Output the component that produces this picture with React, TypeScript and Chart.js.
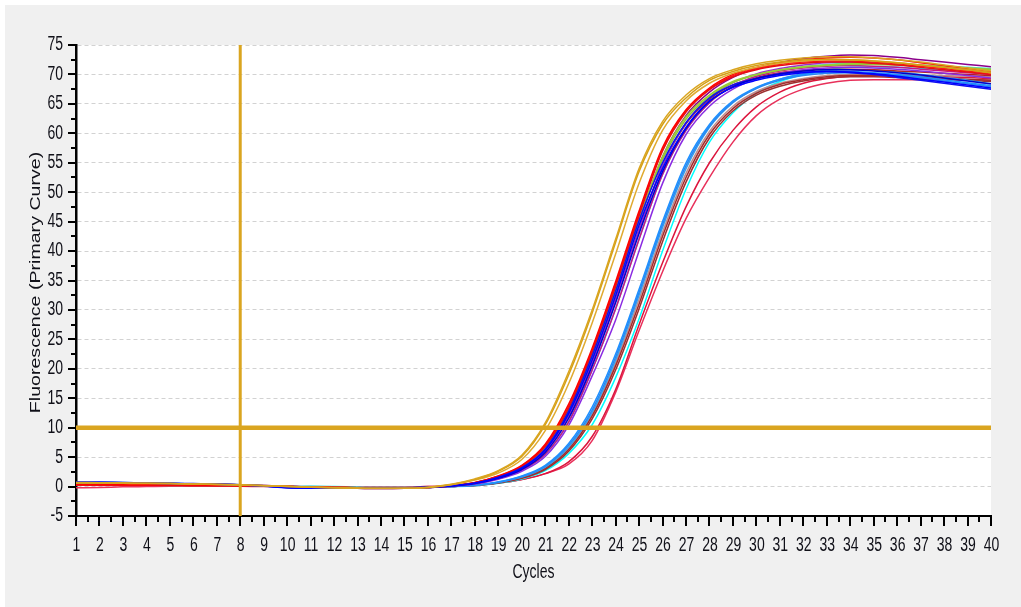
import { useEffect, useRef } from "react";
import { Chart, registerables } from "chart.js";

Chart.register(...registerables);

// ---------- data ----------
const cycles = [1, 2, 3, 4, 5, 6, 7, 8, 9, 10, 11, 12, 13, 14, 15, 16, 17, 18, 19, 20, 21, 22, 23, 24, 25, 26, 27, 28, 29, 30, 31, 32, 33, 34, 35, 36, 37, 38, 39, 40];

const yMin = -5;
const yMax = 75;
const thresholdValue = 10;
const baselineEndCycle = 8;
const xTitle = "Cycles";
const yTitle = "Fluorescence (Primary Curve)";

const goldA = [0.7, 0.65, 0.6, 0.55, 0.5, 0.45, 0.4, 0.3, 0.2, 0.05, -0.1, -0.2, -0.25, -0.3, -0.3, -0.1, 0.4, 1.3, 2.7, 5.3, 10.8, 19.5, 30, 42, 54, 62, 66.5, 69.3, 70.8, 71.8, 72.4, 72.8, 73.0, 73.0, 72.8, 72.5, 72.1, 71.6, 71.1, 70.6];
const goldB = [0.65, 0.6, 0.6, 0.55, 0.5, 0.45, 0.35, 0.25, 0.15, 0, -0.1, -0.2, -0.25, -0.3, -0.3, -0.15, 0.35, 1.2, 2.6, 5.1, 10.5, 19, 29.5, 41.5, 53.5, 61.5, 66, 69, 70.5, 71.5, 72.1, 72.5, 72.6, 72.5, 72.3, 72, 71.6, 71.2, 70.8, 70.3];
const goldC = [0.6, 0.6, 0.55, 0.5, 0.5, 0.4, 0.35, 0.25, 0.15, 0, -0.1, -0.2, -0.3, -0.35, -0.3, -0.15, 0.3, 1.1, 2.3, 4.6, 9.5, 17.5, 27.8, 39.5, 51.5, 60.5, 65.5, 68.5, 70.2, 71.2, 71.9, 72.3, 72.5, 72.5, 72.3, 72, 71.6, 71.2, 70.8, 70.3];
const redA = [0.3, 0.3, 0.3, 0.3, 0.25, 0.25, 0.2, 0.15, 0.1, 0, -0.1, -0.15, -0.2, -0.25, -0.25, -0.15, 0.15, 0.7, 1.8, 3.6, 7.2, 14, 23.5, 34.8, 46.8, 57.6, 64, 67.7, 70, 71.2, 72, 72.5, 72.8, 72.9, 72.8, 72.5, 72, 71.5, 71, 70.4];
const redB = [0.35, 0.3, 0.3, 0.3, 0.3, 0.25, 0.2, 0.15, 0.1, 0, -0.1, -0.15, -0.2, -0.25, -0.2, -0.1, 0.15, 0.65, 1.7, 3.4, 6.8, 13.3, 22.8, 34, 46, 57, 63.6, 67.4, 69.6, 70.8, 71.5, 71.9, 72.1, 72.1, 71.9, 71.6, 71.2, 70.8, 70.4, 70];
const redC = [0.3, 0.3, 0.25, 0.25, 0.25, 0.2, 0.2, 0.15, 0.1, 0, -0.1, -0.15, -0.2, -0.2, -0.2, -0.1, 0.14, 0.66, 1.75, 3.5, 7, 13.6, 23.1, 34.4, 46.4, 57.2, 63.8, 67.5, 69.8, 71, 71.7, 72.1, 72.3, 72.3, 72.1, 71.8, 71.4, 71, 70.6, 70.2];
const yellowGreen = [0.5, 0.5, 0.45, 0.45, 0.4, 0.4, 0.35, 0.25, 0.15, 0, -0.1, -0.15, -0.2, -0.25, -0.25, -0.15, 0.12, 0.6, 1.6, 3.3, 6.6, 13, 22.5, 33.5, 45.5, 56, 62.8, 66.5, 68.8, 70, 70.8, 71.3, 71.6, 71.8, 71.8, 71.7, 71.5, 71.3, 71.1, 70.9];
const yellowGreenB = [0.45, 0.45, 0.45, 0.4, 0.4, 0.35, 0.3, 0.2, 0.1, 0, -0.1, -0.15, -0.2, -0.2, -0.2, -0.1, 0.1, 0.58, 1.55, 3.2, 6.4, 12.6, 22, 33, 45, 55.5, 62.4, 66.2, 68.6, 69.9, 70.7, 71.2, 71.5, 71.7, 71.7, 71.6, 71.4, 71.2, 71, 70.8];
const purple = [0.5, 0.5, 0.5, 0.45, 0.45, 0.4, 0.4, 0.3, 0.2, 0.05, -0.1, -0.2, -0.3, -0.35, -0.3, -0.15, 0.1, 0.55, 1.5, 3.2, 6.4, 12.8, 22, 33, 45, 56, 63, 67, 69.5, 71, 72, 72.7, 73.1, 73.3, 73.2, 72.9, 72.5, 72.1, 71.7, 71.3];
const darkOrchid = [0.45, 0.45, 0.45, 0.4, 0.4, 0.35, 0.35, 0.3, 0.2, 0.05, -0.1, -0.2, -0.3, -0.35, -0.3, -0.15, 0.08, 0.52, 1.45, 3, 6, 12, 21, 31.8, 43.6, 54.5, 61.8, 66, 68.6, 70.1, 71, 71.6, 72, 72.1, 72, 71.8, 71.5, 71.2, 70.8, 70.4];
const blueA = [0.75, 0.75, 0.7, 0.6, 0.55, 0.5, 0.45, 0.3, 0.1, -0.2, -0.3, -0.3, -0.3, -0.25, -0.2, -0.1, 0.1, 0.55, 1.5, 3.1, 6.2, 12.4, 21.5, 32.4, 44.4, 54, 61, 65.5, 67.8, 69, 69.8, 70.3, 70.5, 70.4, 70.1, 69.7, 69.2, 68.7, 68.2, 67.7];
const blueB = [0.7, 0.7, 0.65, 0.6, 0.5, 0.45, 0.4, 0.3, 0.1, -0.15, -0.25, -0.3, -0.3, -0.25, -0.2, -0.1, 0.08, 0.5, 1.4, 2.9, 5.8, 11.6, 20.5, 31.2, 43, 53.5, 60.8, 65.4, 67.9, 69.3, 70.1, 70.6, 70.8, 70.8, 70.6, 70.3, 69.9, 69.4, 68.9, 68.4];
const blueC = [0.7, 0.7, 0.65, 0.55, 0.5, 0.45, 0.4, 0.25, 0.05, -0.2, -0.3, -0.3, -0.25, -0.2, -0.2, -0.1, 0.1, 0.6, 1.6, 3.2, 6.4, 12.8, 22.2, 33.2, 45.2, 55, 61.8, 66, 68.2, 69.3, 70, 70.4, 70.5, 70.3, 70, 69.5, 69, 68.5, 68, 67.5];
const blueViolet = [0.45, 0.45, 0.4, 0.4, 0.4, 0.35, 0.35, 0.25, 0.1, 0, -0.1, -0.2, -0.25, -0.3, -0.25, -0.15, 0.05, 0.45, 1.25, 2.6, 5.1, 10.4, 18.8, 28.3, 40, 51.5, 59.8, 64.6, 67.5, 69.2, 70.2, 70.8, 71.1, 71.2, 71.1, 70.9, 70.6, 70.2, 69.8, 69.4];
const violetRed = [0.4, 0.4, 0.4, 0.35, 0.35, 0.3, 0.3, 0.25, 0.15, 0, -0.1, -0.15, -0.2, -0.25, -0.25, -0.15, 0.07, 0.5, 1.35, 2.8, 5.5, 11, 19.8, 30.2, 42, 53, 60.5, 65.2, 68, 69.7, 70.6, 71.1, 71.4, 71.5, 71.4, 71.2, 70.9, 70.6, 70.3, 70.0];
const turquoise = [0.55, 0.55, 0.5, 0.45, 0.4, 0.35, 0.3, 0.2, 0.1, 0, -0.05, -0.1, -0.2, -0.25, -0.25, -0.15, 0.07, 0.5, 1.35, 2.8, 5.5, 11, 19.8, 30.2, 42, 53, 60.5, 65.2, 68, 69.7, 70.7, 71.3, 71.7, 71.9, 71.9, 71.8, 71.6, 71.4, 71.2, 71.0];
const fireBrick = [0.35, 0.35, 0.3, 0.3, 0.3, 0.25, 0.25, 0.2, 0.1, 0, -0.1, -0.15, -0.2, -0.25, -0.25, -0.15, 0.09, 0.52, 1.45, 3, 6, 12, 21, 31.8, 43.6, 54.5, 61.6, 65.8, 68.2, 69.5, 70.3, 70.7, 70.9, 70.9, 70.8, 70.6, 70.4, 70.2, 70, 69.8];
const dodgerBlue = [0.7, 0.7, 0.7, 0.6, 0.5, 0.45, 0.4, 0.3, 0.15, 0, -0.1, -0.2, -0.25, -0.25, -0.2, -0.15, 0, 0.25, 0.8, 1.8, 3.6, 7.3, 13.5, 22.5, 33.5, 45, 55, 61.5, 65.5, 67.8, 69.2, 70, 70.4, 70.5, 70.3, 70, 69.6, 69.1, 68.6, 68.1];
const dodgerBlueB = [0.7, 0.7, 0.65, 0.6, 0.5, 0.45, 0.4, 0.3, 0.15, 0, -0.1, -0.2, -0.25, -0.25, -0.2, -0.15, 0, 0.22, 0.75, 1.7, 3.45, 7, 13, 22, 33, 44.5, 54.5, 61.2, 65.3, 67.6, 69, 69.8, 70.2, 70.3, 70.1, 69.8, 69.4, 68.9, 68.4, 67.9];
const skyBlue = [0.65, 0.65, 0.65, 0.6, 0.5, 0.45, 0.4, 0.3, 0.15, 0, -0.1, -0.2, -0.25, -0.25, -0.2, -0.15, 0, 0.2, 0.7, 1.6, 3.3, 6.7, 12.6, 21.5, 32.5, 44, 54, 61, 65.2, 67.7, 69.2, 70.1, 70.6, 70.8, 70.7, 70.4, 70, 69.5, 69, 68.4];
const brown = [0.3, 0.3, 0.3, 0.25, 0.25, 0.2, 0.2, 0.15, 0.1, 0, -0.1, -0.15, -0.2, -0.2, -0.2, -0.15, 0, 0.2, 0.65, 1.5, 3.1, 6.3, 12, 20.5, 31, 42.5, 52.5, 59.8, 64.2, 66.8, 68.3, 69.1, 69.6, 69.8, 69.8, 69.7, 69.6, 69.4, 69.2, 69];
const brownB = [0.3, 0.3, 0.25, 0.25, 0.2, 0.2, 0.2, 0.15, 0.1, 0, -0.1, -0.15, -0.2, -0.2, -0.2, -0.15, 0, 0.18, 0.6, 1.4, 2.9, 6, 11.5, 19.8, 30.2, 41.6, 51.7, 59.2, 63.8, 66.5, 68, 68.9, 69.4, 69.6, 69.6, 69.5, 69.4, 69.2, 69, 68.8];
const rosyBrown = [0.25, 0.25, 0.25, 0.25, 0.2, 0.2, 0.2, 0.15, 0.1, 0, -0.1, -0.15, -0.2, -0.2, -0.2, -0.15, 0, 0.2, 0.68, 1.55, 3.2, 6.5, 12.3, 21, 31.8, 43.2, 53.2, 60.3, 64.6, 67.1, 68.5, 69.3, 69.8, 70, 70, 70, 69.9, 69.8, 69.7, 69.6];
const cyan = [0.4, 0.4, 0.4, 0.35, 0.35, 0.3, 0.3, 0.2, 0.1, 0, 0.05, 0, -0.1, -0.15, -0.15, -0.1, 0, 0.15, 0.55, 1.3, 2.7, 5.6, 10.5, 18.5, 28.5, 40, 50.5, 58.5, 63.5, 66.8, 68.8, 70, 70.8, 71.2, 71.3, 71.2, 71, 70.8, 70.6, 70.4];
const crimsonA = [0.25, 0.25, 0.25, 0.25, 0.25, 0.2, 0.2, 0.15, 0.1, 0.05, 0, -0.05, -0.1, -0.1, -0.1, 0, 0.1, 0.3, 0.6, 1.2, 2.2, 4.2, 8.5, 16.5, 27.5, 38, 47.5, 55, 60.5, 64.5, 67, 68.5, 69.3, 69.7, 69.8, 69.8, 69.7, 69.6, 69.5, 69.3];
const crimsonB = [-0.2, -0.15, -0.05, 0, 0.05, 0.05, 0.05, 0.05, 0, 0, -0.05, -0.1, -0.1, -0.1, -0.1, 0, 0.1, 0.3, 0.6, 1.2, 2.2, 3.8, 7.8, 16, 26.5, 36.5, 45.5, 52.5, 58.5, 63, 65.8, 67.5, 68.5, 69, 69.1, 69.1, 69.1, 69.1, 69.1, 69];

// listed top-most first (earlier entries are drawn over later ones)
const seriesLabels = ["A1", "A2", "A3", "E1", "E2", "E3", "B1", "B2", "B3", "C1", "C2", "D1", "D2", "F1", "F2", "G1", "H1", "J1", "J2", "J3", "K1", "K2", "L1", "M1", "N1", "N2"];
const seriesColors = ["#DAA520", "#D4A017", "#E0AA30", "#0000FF", "#0000CD", "#1010F0", "#FF0000", "#E81010", "#FF1A1A", "#9ACD32", "#8FC43A", "#8B008B", "#9932CC", "#8A2BE2", "#C71585", "#40E0D0", "#B22222", "#1E90FF", "#2A88F0", "#3A9FE8", "#A52A2A", "#9B3030", "#BC8F8F", "#00FFFF", "#DC143C", "#E8305A"];
const seriesValues = [goldA, goldB, goldC, blueA, blueB, blueC, redA, redB, redC, yellowGreen, yellowGreenB, purple, darkOrchid, blueViolet, violetRed, turquoise, fireBrick, dodgerBlue, dodgerBlueB, skyBlue, brown, brownB, rosyBrown, cyan, crimsonA, crimsonB];

const thresholdLine = [
  { x: 1, y: thresholdValue },
  { x: 40, y: thresholdValue },
];
const cycleMarkerLine = [
  { x: baselineEndCycle, y: yMin },
  { x: baselineEndCycle, y: yMax },
];

const GOLD = "#DAA520";
const TEXT_FONT = "14px 'Liberation Sans', Arial, sans-serif";
const TEXT_COLOR = "#101018";
const STRETCH = 1.4;

const decorPlugin = {
  id: "decor",
  beforeDraw(chart: any) {
    const { ctx, chartArea } = chart;
    ctx.save();
    ctx.fillStyle = "#ffffff";
    ctx.fillRect(chartArea.left, chartArea.top, chartArea.right - chartArea.left, chartArea.bottom - chartArea.top);
    ctx.restore();
  },
  afterDraw(chart: any) {
    const { ctx, chartArea } = chart;
    const xs = chart.scales.x;
    const ys = chart.scales.y;
    ctx.save();
    // tick marks
    ctx.strokeStyle = "#000000";
    ctx.lineWidth = 2;
    ctx.beginPath();
    for (let v = yMin; v <= yMax + 0.001; v += 2.5) {
      const py = Math.round(ys.getPixelForValue(v));
      const major = Math.abs(v % 5) < 0.001;
      const len = major ? 8 : 5;
      ctx.moveTo(chartArea.left - len, py);
      ctx.lineTo(chartArea.left, py);
    }
    for (let c = cycles[0]; c <= cycles[cycles.length - 1] + 0.001; c += 0.5) {
      const px = Math.round(xs.getPixelForValue(c));
      const major = Math.abs(c % 1) < 0.001;
      const len = major ? 10 : 6;
      ctx.moveTo(px, chartArea.bottom);
      ctx.lineTo(px, chartArea.bottom + len);
    }
    ctx.stroke();

    // tick labels (taken from the library's scale ticks)
    ctx.font = TEXT_FONT;
    ctx.fillStyle = TEXT_COLOR;
    ctx.textBaseline = "middle";
    ctx.textAlign = "right";
    for (const t of ys.ticks) {
      const py = ys.getPixelForValue(t.value);
      ctx.save();
      ctx.translate(chartArea.left - 13, py);
      ctx.scale(1, STRETCH);
      ctx.fillText(String(t.label ?? t.value), 0, 0);
      ctx.restore();
    }
    ctx.textAlign = "center";
    for (const t of xs.ticks) {
      const px = xs.getPixelForValue(t.value);
      ctx.save();
      ctx.translate(px + 0.5, chartArea.bottom + 30);
      ctx.scale(1, STRETCH);
      ctx.fillText(String(t.label ?? t.value), 0, 0);
      ctx.restore();
    }

    // axis titles
    ctx.save();
    ctx.translate((chartArea.left + chartArea.right) / 2, chartArea.bottom + 57);
    ctx.scale(1, STRETCH);
    ctx.fillText(xTitle, 0, 0);
    ctx.restore();

    ctx.save();
    ctx.translate(36, (chartArea.top + chartArea.bottom) / 2 + 2);
    ctx.rotate(-Math.PI / 2);
    ctx.scale(STRETCH, 1);
    ctx.fillText(yTitle, 0, 0);
    ctx.restore();

    ctx.restore();
  },
};

export default function App() {
  const canvasRef = useRef<HTMLCanvasElement | null>(null);

  useEffect(() => {
    if (!canvasRef.current) return;
    const curveSets = seriesValues.map((vals, i) => ({
      label: seriesLabels[i],
      data: cycles.map((c, j) => ({ x: c, y: vals[j] })),
      borderColor: seriesColors[i],
      backgroundColor: seriesColors[i],
      borderWidth: 1.5,
      pointRadius: 0,
      fill: false,
      cubicInterpolationMode: "monotone" as const,
    }));
    const chart = new Chart(canvasRef.current, {
      type: "line",
      data: {
        datasets: [
          {
            label: "Threshold",
            data: thresholdLine,
            borderColor: GOLD,
            borderWidth: 4.5,
            pointRadius: 0,
            fill: false,
          },
          {
            label: "Baseline end",
            data: cycleMarkerLine,
            borderColor: GOLD,
            borderWidth: 3,
            pointRadius: 0,
            fill: false,
          },
          ...curveSets,
        ],
      },
      options: {
        responsive: false,
        animation: false,
        devicePixelRatio: 1,
        layout: { padding: { left: 0, top: 45, right: 30, bottom: 21 } },
        plugins: {
          legend: { display: false },
          tooltip: { enabled: false },
        },
        scales: {
          x: {
            type: "linear",
            min: 1,
            max: 40,
            afterFit: (s: any) => {
              s.height = 70;
            },
            ticks: { stepSize: 1, autoSkip: false, maxRotation: 0, display: false },
            grid: { display: false, drawTicks: false },
            border: { display: true, color: "#000000", width: 2 },
            title: { display: false, text: xTitle },
          },
          y: {
            type: "linear",
            min: yMin,
            max: yMax,
            afterFit: (s: any) => {
              s.width = 76;
            },
            ticks: { stepSize: 5, display: false },
            grid: { display: true, drawTicks: false, color: "#d2d2d2", lineWidth: 1 },
            border: { display: true, color: "#000000", width: 2.5, dash: [4, 3] },
            title: { display: false, text: yTitle },
          },
        },
      },
      plugins: [decorPlugin],
    });
    return () => chart.destroy();
  }, []);

  return (
    <div style={{ position: "absolute", left: 0, top: 0, width: 1021, height: 607, background: "#ffffff", overflow: "hidden" }}>
      <div style={{ position: "absolute", left: 5, top: 5, width: 1016, height: 602, background: "#f0f0f0" }} />
      <canvas ref={canvasRef} width={1021} height={607} style={{ position: "absolute", left: 0, top: 0 }} />
    </div>
  );
}
